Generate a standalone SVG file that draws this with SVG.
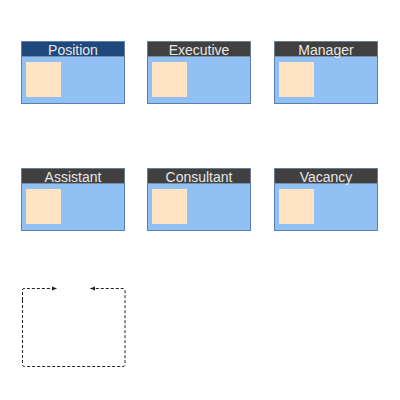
<svg xmlns="http://www.w3.org/2000/svg" width="400" height="400" viewBox="0 0 400 400">
<style>
.body{fill:#90c0f4;stroke:#5b80b0;stroke-width:1}
.hdr{fill:#404040;stroke:#8a9ab0;stroke-width:0.5}
.hdr.sel{fill:#1f497d}
.pic{fill:#ffe4c4}
.lbl{font-family:"Liberation Sans",Arial,sans-serif;font-size:14px;fill:#e8e8e8;text-anchor:middle}
.conn{fill:none;stroke:#222;stroke-width:1;stroke-dasharray:3,2}
</style>
<defs>
<marker id="arr" markerWidth="6" markerHeight="6" refX="5" refY="3" orient="auto" markerUnits="userSpaceOnUse">
<path d="M0,1 L5,3 L0,5 Z" fill="#222"/>
</marker>
</defs>
<rect width="400" height="400" fill="#ffffff"/>
<g id="position">
<rect class="body" x="21.5" y="41.5" width="103" height="62"/>
<rect class="hdr sel" x="21.5" y="41.5" width="103" height="15"/>
<rect class="pic" x="26" y="62" width="35" height="35"/>
<text class="lbl" x="73" y="54.5">Position</text>
</g>
<g id="executive">
<rect class="body" x="147.5" y="41.5" width="103" height="62"/>
<rect class="hdr" x="147.5" y="41.5" width="103" height="15"/>
<rect class="pic" x="152" y="62" width="35" height="35"/>
<text class="lbl" x="199" y="54.5">Executive</text>
</g>
<g id="manager">
<rect class="body" x="274.5" y="41.5" width="103" height="62"/>
<rect class="hdr" x="274.5" y="41.5" width="103" height="15"/>
<rect class="pic" x="279" y="62" width="35" height="35"/>
<text class="lbl" x="326" y="54.5">Manager</text>
</g>
<g id="assistant">
<rect class="body" x="21.5" y="168.5" width="103" height="62"/>
<rect class="hdr" x="21.5" y="168.5" width="103" height="15"/>
<rect class="pic" x="26" y="189" width="35" height="35"/>
<text class="lbl" x="73" y="181.5">Assistant</text>
</g>
<g id="consultant">
<rect class="body" x="147.5" y="168.5" width="103" height="62"/>
<rect class="hdr" x="147.5" y="168.5" width="103" height="15"/>
<rect class="pic" x="152" y="189" width="35" height="35"/>
<text class="lbl" x="199" y="181.5">Consultant</text>
</g>
<g id="vacancy">
<rect class="body" x="274.5" y="168.5" width="103" height="62"/>
<rect class="hdr" x="274.5" y="168.5" width="103" height="15"/>
<rect class="pic" x="279" y="189" width="35" height="35"/>
<text class="lbl" x="326" y="181.5">Vacancy</text>
</g>
<g id="connectors">
<path class="conn" d="M22.5,300 L22.5,290 Q22.5,288.5 24,288.5 L57,288.5" marker-end="url(#arr)"/>
<path class="conn" d="M22.5,300 L22.5,364.5 Q22.5,366.5 24.5,366.5 L123,366.5 Q125,366.5 125,364.5 L125,290 Q125,288.5 123.5,288.5 L90,288.5" marker-end="url(#arr)"/>
</g>
</svg>
